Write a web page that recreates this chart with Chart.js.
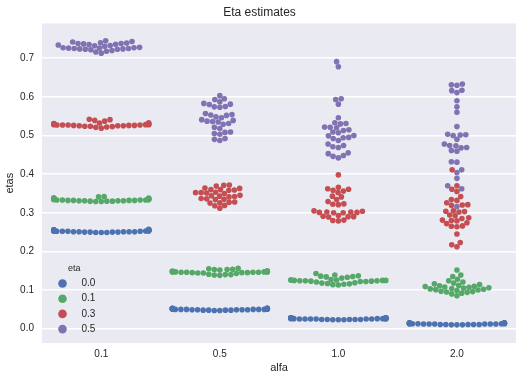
<!DOCTYPE html>
<html>
<head>
  <title>Eta estimates</title>
  <script src="https://cdn.jsdelivr.net/npm/chart.js"></script>
  <style>
    html, body { margin: 0; padding: 0; overflow: hidden; background: #fff; }
    #chart { display: block; }
  </style>
</head>
<body>
  <canvas id="chart" width="519" height="373"></canvas>
  <script>
    // --- DATA ---
    const alfaLabels = ['0.1', '0.5', '1.0', '2.0'];
    const etaLabels = ['0.0', '0.1', '0.3', '0.5'];
    const etaColors = ['#4C72B0', '#55A868', '#C44E52', '#8172B2'];
    const yTicks = [0.0, 0.1, 0.2, 0.3, 0.4, 0.5, 0.6, 0.7];

    // estimated etas, one list per alfa (0.1, 0.5, 1.0, 2.0)
    const etas00 = [
      [0.249,0.249,0.249,0.250,0.250,0.250,0.250,0.251,0.251,0.251,0.251,0.251,0.252,0.252,0.252,0.252,0.253,0.253,0.253,0.253,0.254,0.254,0.254,0.255,0.255,0.255,0.256,0.256,0.256,0.257],
      [0.047,0.047,0.048,0.048,0.048,0.048,0.049,0.049,0.049,0.049,0.049,0.050,0.050,0.050,0.050,0.050,0.050,0.051,0.051,0.051,0.051,0.051,0.052,0.052,0.052,0.052,0.052,0.053,0.053,0.053],
      [0.023,0.023,0.023,0.024,0.024,0.024,0.024,0.024,0.025,0.025,0.025,0.025,0.025,0.025,0.026,0.026,0.026,0.026,0.026,0.026,0.027,0.027,0.027,0.027,0.027,0.028,0.028,0.028,0.028,0.028],
      [0.010,0.010,0.010,0.011,0.011,0.011,0.011,0.011,0.012,0.012,0.012,0.012,0.012,0.012,0.013,0.013,0.013,0.013,0.013,0.013,0.014,0.014,0.014,0.014,0.014,0.014,0.015,0.015,0.015,0.015]
    ];
    const etas01 = [
      [0.329,0.329,0.330,0.330,0.330,0.331,0.331,0.331,0.331,0.332,0.332,0.332,0.332,0.333,0.333,0.333,0.333,0.334,0.334,0.334,0.335,0.335,0.336,0.336,0.337,0.337,0.338,0.339,0.341,0.342],
      [0.138,0.139,0.140,0.140,0.141,0.143,0.144,0.144,0.145,0.145,0.145,0.146,0.146,0.146,0.146,0.147,0.147,0.147,0.147,0.148,0.148,0.148,0.149,0.150,0.152,0.153,0.153,0.154,0.155,0.156],
      [0.113,0.114,0.115,0.116,0.117,0.118,0.119,0.121,0.122,0.122,0.123,0.123,0.124,0.124,0.124,0.125,0.125,0.125,0.126,0.126,0.126,0.127,0.131,0.133,0.134,0.135,0.136,0.137,0.139,0.143],
      [0.085,0.090,0.092,0.094,0.095,0.096,0.097,0.099,0.100,0.101,0.102,0.103,0.104,0.105,0.106,0.107,0.108,0.109,0.110,0.111,0.112,0.114,0.116,0.118,0.121,0.124,0.128,0.135,0.139,0.152]
    ];
    const etas03 = [
      [0.519,0.521,0.522,0.523,0.524,0.524,0.525,0.525,0.525,0.526,0.526,0.526,0.527,0.527,0.527,0.527,0.528,0.528,0.528,0.529,0.529,0.530,0.530,0.531,0.532,0.533,0.537,0.539,0.541,0.542],
      [0.312,0.318,0.319,0.325,0.326,0.327,0.328,0.334,0.335,0.336,0.337,0.341,0.342,0.343,0.344,0.345,0.350,0.351,0.352,0.352,0.353,0.358,0.359,0.360,0.360,0.363,0.364,0.369,0.371,0.372],
      [0.279,0.280,0.281,0.289,0.290,0.290,0.291,0.293,0.300,0.300,0.301,0.301,0.302,0.302,0.304,0.305,0.321,0.322,0.323,0.329,0.334,0.341,0.343,0.352,0.356,0.358,0.361,0.362,0.366,0.398],
      [0.212,0.217,0.223,0.245,0.264,0.265,0.266,0.272,0.274,0.279,0.280,0.281,0.285,0.287,0.292,0.294,0.302,0.303,0.304,0.305,0.319,0.320,0.321,0.326,0.332,0.334,0.342,0.355,0.361,0.370,0.411]
    ];
    const etas05 = [
      [0.713,0.716,0.718,0.720,0.722,0.723,0.723,0.724,0.724,0.725,0.725,0.726,0.726,0.727,0.727,0.728,0.731,0.732,0.733,0.734,0.735,0.736,0.737,0.738,0.738,0.739,0.740,0.742,0.743,0.745],
      [0.487,0.490,0.492,0.503,0.505,0.508,0.509,0.518,0.521,0.529,0.531,0.535,0.536,0.537,0.539,0.541,0.546,0.548,0.552,0.553,0.554,0.557,0.573,0.574,0.575,0.580,0.581,0.583,0.587,0.593,0.595,0.603],
      [0.442,0.446,0.448,0.453,0.455,0.469,0.471,0.474,0.478,0.487,0.492,0.494,0.495,0.499,0.500,0.507,0.509,0.513,0.515,0.520,0.521,0.522,0.530,0.531,0.533,0.546,0.581,0.593,0.595,0.678,0.691],
      [0.316,0.362,0.370,0.389,0.404,0.411,0.431,0.432,0.459,0.461,0.468,0.469,0.473,0.474,0.478,0.490,0.500,0.501,0.502,0.503,0.523,0.560,0.574,0.590,0.611,0.616,0.617,0.630,0.631,0.633]
    ];
    const series = [etas00, etas01, etas03, etas05];

    // --- STYLE ---
    const FONT = "'Liberation Sans', Arial, sans-serif";
    const TEXT = '#262626';
    const SWARM_D = 5.3;      // min distance between point centres (px)
    const SWARM_HALF = 0.4;   // half width of a swarm, in category units

    // plot background like seaborn darkgrid
    const bgPlugin = {
      id: 'bg',
      beforeDraw(chart) {
        const { ctx, chartArea: a } = chart;
        ctx.save();
        ctx.fillStyle = '#EAEAF2';
        ctx.fillRect(a.left, a.top, a.right - a.left, a.bottom - a.top);
        ctx.restore();
      }
    };

    // legend sits inside the plot, lower left
    const legendPlugin = {
      id: 'etaLegend',
      afterDraw(chart) {
        const { ctx, chartArea: a } = chart;
        ctx.save();
        ctx.textBaseline = 'middle';
        ctx.textAlign = 'left';
        ctx.fillStyle = TEXT;
        ctx.font = '9px ' + FONT;
        ctx.fillText('eta', a.left + 26, a.bottom - 74);
        ctx.font = '10px ' + FONT;
        etaLabels.forEach((lab, i) => {
          const y = a.bottom - 59.5 + i * 15.2;
          ctx.beginPath();
          ctx.arc(a.left + 20.5, y, 4.3, 0, Math.PI * 2);
          ctx.fillStyle = etaColors[i];
          ctx.fill();
          ctx.fillStyle = TEXT;
          ctx.fillText(lab, a.left + 39.5, y);
        });
        ctx.restore();
      }
    };

    const chart = new Chart(document.getElementById('chart'), {
      type: 'scatter',
      data: {
        datasets: etaLabels.map((lab, hi) => ({
          label: lab,
          data: series[hi].flatMap((vals, ci) => vals.map(v => ({ x: ci, y: v }))),
          backgroundColor: etaColors[hi],
          borderWidth: 0,
          pointRadius: 2.8,
          pointHoverRadius: 2.8
        }))
      },
      options: {
        responsive: false,
        animation: false,
        events: [],
        layout: { padding: 0 },
        plugins: {
          legend: { display: false },
          tooltip: { enabled: false },
          title: {
            display: true,
            text: 'Eta estimates',
            color: TEXT,
            font: { family: FONT, size: 12, weight: 'normal' },
            padding: { top: 5, bottom: 4 }
          }
        },
        scales: {
          x: {
            type: 'linear',
            min: -0.5,
            max: 3.5,
            afterBuildTicks: s => { s.ticks = alfaLabels.map((_, i) => ({ value: i })); },
            afterFit: s => { s.height = 30; },
            ticks: {
              callback: v => alfaLabels[Math.round(v)],
              color: TEXT,
              font: { family: FONT, size: 10 },
              padding: 5,
              maxRotation: 0
            },
            grid: { display: false, drawTicks: false },
            border: { display: false },
            title: {
              display: true,
              text: 'alfa',
              color: TEXT,
              font: { family: FONT, size: 11, lineHeight: 1 },
              padding: { top: 0, bottom: 0 }
            }
          },
          y: {
            min: -0.037,
            max: 0.79,
            afterBuildTicks: s => { s.ticks = yTicks.map(v => ({ value: v })); },
            afterFit: s => { s.width = 42; },
            ticks: {
              callback: v => v.toFixed(1),
              color: TEXT,
              font: { family: FONT, size: 10 },
              padding: 8
            },
            grid: { color: '#ffffff', lineWidth: 1.5, drawTicks: false },
            border: { display: false },
            title: {
              display: true,
              text: 'etas',
              color: TEXT,
              font: { family: FONT, size: 11 },
              padding: { top: 3, bottom: 0 }
            }
          }
        }
      },
      plugins: [bgPlugin, legendPlugin]
    });

    // --- SWARM LAYOUT (seaborn-style beeswarm, all hues of a category together) ---
    function layoutSwarm(chart) {
      const xs = chart.scales.x, ys = chart.scales.y;
      const pxPerCat = xs.getPixelForValue(1) - xs.getPixelForValue(0);
      const halfPx = SWARM_HALF * pxPerCat;
      alfaLabels.forEach((_, ci) => {
        const pts = [];
        series.forEach((s, hi) => {
          // index of this category's first point inside dataset hi
          let start = 0;
          for (let i = 0; i < ci; i++) start += s[i].length;
          s[ci].forEach((v, k) => pts.push({ hi, idx: start + k, v, py: ys.getPixelForValue(v), dx: 0 }));
        });
        pts.sort((a, b) => a.v - b.v);
        const placed = [];
        pts.forEach(p => {
          const nb = [];
          for (let j = placed.length - 1; j >= 0; j--) {
            if (placed[j].py - p.py < SWARM_D) nb.push(placed[j]);
            else break;
          }
          const cands = [0];
          nb.forEach(q => {
            const dy = p.py - q.py;
            const dx = Math.sqrt(Math.max(SWARM_D * SWARM_D - dy * dy, 0)) * 1.05;
            cands.push(q.dx - dx, q.dx + dx);
          });
          cands.sort((a, b) => Math.abs(a) - Math.abs(b));
          for (const c of cands) {
            const ok = nb.every(q => (q.dx - c) ** 2 + (q.py - p.py) ** 2 >= SWARM_D * SWARM_D - 1e-6);
            if (ok) { p.dx = c; break; }
          }
          placed.push(p);
        });
        // points that overflow the swarm width are pushed back to its edges
        placed.forEach(p => {
          const dx = Math.max(-halfPx, Math.min(halfPx, p.dx));
          chart.data.datasets[p.hi].data[p.idx].x = ci + dx / pxPerCat;
        });
      });
      chart.update('none');
    }

    layoutSwarm(chart);
  </script>
</body>
</html>
